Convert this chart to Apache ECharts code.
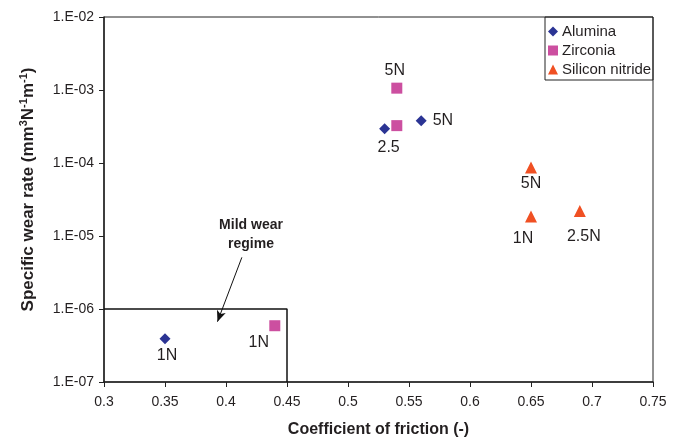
<!DOCTYPE html>
<html>
<head>
<meta charset="utf-8">
<script src="https://cdn.jsdelivr.net/npm/echarts@6/dist/echarts.min.js"></script>
<style>
html,body{margin:0;padding:0;background:#fff;}
#chart{width:684px;height:443px;}
</style>
</head>
<body>
<div id="chart"></div>
<script>
// ---- data ----
var seriesNames = ['Alumina', 'Zirconia', 'Silicon nitride'];
var aluminaFriction = [0.35, 0.53, 0.56];
var aluminaWear = [3.9e-7, 2.95e-4, 3.8e-4];
var aluminaLabels = ['1N', '2.5', '5N'];
var zirconiaFriction = [0.44, 0.54, 0.54];
var zirconiaWear = [5.9e-7, 3.25e-4, 1.06e-3];
var zirconiaLabels = ['1N', '', '5N'];
var siliconFriction = [0.65, 0.65, 0.69];
var siliconWear = [8.7e-5, 1.85e-5, 2.2e-5];
var siliconLabels = ['5N', '1N', '2.5N'];
var xTickLabels = ['0.3', '0.35', '0.4', '0.45', '0.5', '0.55', '0.6', '0.65', '0.7', '0.75'];
var yTickLabels = ['1.E-07', '1.E-06', '1.E-05', '1.E-04', '1.E-03', '1.E-02'];
// mild wear regime boundary and annotation
var mildFriction = [0.3, 0.45, 0.45];
var mildWear = [1e-6, 1e-6, 1e-7];
var arrowFriction = [0.413, 0.393];
var arrowWear = [5.1e-6, 6.7e-7];
var annotationText = 'Mild wear\nregime';
var annotationAt = [0.4205, 1.05e-5];

// ---- styles ----
var FONT = 'Liberation Sans, Arial, sans-serif';
var TXT = '#231f20';
var colors = ['#2b3494', '#cc4fa0', '#f05023'];
var symbols = ['diamond', 'rect', 'triangle'];
var sizes = [11, 11, 12];
// label placement per point (style only)
var labelPlace = [
  [{position: 'bottom', distance: 3, offset: [2, 0]}, {position: 'bottom', distance: 5, offset: [4, 0]}, {position: 'right', distance: 6}],
  [{position: 'bottom', distance: 3, offset: [-16, 0]}, {show: false}, {position: 'top', distance: 4, offset: [-2, 0]}],
  [{position: 'bottom', distance: 2}, {position: 'bottom', distance: 8, offset: [-8, 0]}, {position: 'bottom', distance: 12, offset: [4, 0]}]
];

function makePoints(xs, ys, labels, place) {
  return xs.map(function (x, i) {
    var lab = Object.assign({show: labels[i] !== '', formatter: labels[i]}, place[i]);
    return {value: [x, ys[i]], label: lab};
  });
}
function pairs(xs, ys) { return xs.map(function (x, i) { return [x, ys[i]]; }); }

var dataSets = [
  makePoints(aluminaFriction, aluminaWear, aluminaLabels, labelPlace[0]),
  makePoints(zirconiaFriction, zirconiaWear, zirconiaLabels, labelPlace[1]),
  makePoints(siliconFriction, siliconWear, siliconLabels, labelPlace[2])
];

var series = seriesNames.map(function (n, i) {
  return {
    name: n, type: 'scatter', symbol: symbols[i], symbolSize: sizes[i],
    itemStyle: {color: colors[i], opacity: 1},
    label: {color: TXT, fontSize: 16, fontFamily: FONT},
    data: dataSets[i], z: 5
  };
});

series.push({
  name: 'mild', type: 'line', data: pairs(mildFriction, mildWear),
  symbol: 'none', lineStyle: {color: '#111', width: 1.5}, silent: true, z: 3,
  markLine: {
    silent: true, animation: false,
    symbol: ['none', 'arrow'], symbolSize: [7, 11],
    label: {show: false},
    lineStyle: {color: '#111', width: 1, type: 'solid'},
    data: [[{coord: [arrowFriction[0], arrowWear[0]]}, {coord: [arrowFriction[1], arrowWear[1]]}]]
  }
});
series.push({
  name: 'note', type: 'scatter', data: [annotationAt], symbolSize: 0,
  itemStyle: {opacity: 1},
  label: {show: true, position: 'inside', formatter: annotationText, color: TXT,
    fontSize: 14, fontWeight: 'bold', fontFamily: FONT, lineHeight: 19, align: 'center'},
  silent: true
});

var supStyle = {fontSize: 11, fontWeight: 'bold', color: TXT, fontFamily: FONT, verticalAlign: 'top', lineHeight: 20, padding: [0, 0, 7, 0]};
var titleStyle = {fontSize: 17, fontWeight: 'bold', color: TXT, fontFamily: FONT, lineHeight: 20};

var chart = echarts.init(document.getElementById('chart'), null, {renderer: 'canvas'});
chart.setOption({
  animation: false,
  backgroundColor: '#fff',
  textStyle: {fontFamily: FONT},
  grid: {left: 104, right: 31, top: 17, bottom: 60, show: true, borderColor: '#222', borderWidth: 1},
  legend: {
    data: seriesNames, orient: 'vertical', left: 548, top: 24, padding: 0,
    itemWidth: 10, itemHeight: 10, itemGap: 4,
    textStyle: {fontSize: 15, color: TXT, fontFamily: FONT, lineHeight: 15, padding: [0, 0, 0, -1]}
  },
  graphic: [{
    type: 'rect', shape: {x: 545, y: 17, width: 108, height: 63},
    style: {fill: 'none', stroke: '#222', lineWidth: 1}, z: 10, silent: true
  }],
  xAxis: {
    type: 'value', min: 0.3, max: 0.75, interval: 0.05,
    name: 'Coefficient of friction (-)', nameLocation: 'middle', nameGap: 40,
    nameTextStyle: {fontSize: 16, fontWeight: 'bold', color: TXT, fontFamily: FONT},
    axisLine: {onZero: false, lineStyle: {color: '#222', width: 1.5}},
    axisTick: {show: true, inside: false, length: 5, lineStyle: {color: '#222'}},
    axisLabel: {fontSize: 14, color: TXT, margin: 13, fontFamily: FONT,
      formatter: function (v) { return xTickLabels[Math.round((v - 0.3) / 0.05)]; }},
    splitLine: {show: false}
  },
  yAxis: {
    type: 'log', logBase: 10, min: 1e-7, max: 1e-2,
    name: '{t|Specific wear rate (mm}{s|3}{t|N}{s|-1}{t|m}{s|-1}{t|)}', nameLocation: 'middle', nameGap: 66,
    nameTextStyle: {fontSize: 16, fontWeight: 'bold', color: TXT, fontFamily: FONT, padding: [0, 0, 0, 20],
      rich: {t: titleStyle, s: supStyle}},
    axisLine: {lineStyle: {color: '#222', width: 1.5}},
    axisTick: {show: true, inside: false, length: 5, lineStyle: {color: '#222'}},
    minorTick: {show: false},
    axisLabel: {fontSize: 14, color: TXT, margin: 10, fontFamily: FONT,
      formatter: function (v) { return yTickLabels[Math.round(Math.log10(v)) + 7]; }},
    splitLine: {show: false}
  },
  series: series
});
</script>
</body>
</html>
